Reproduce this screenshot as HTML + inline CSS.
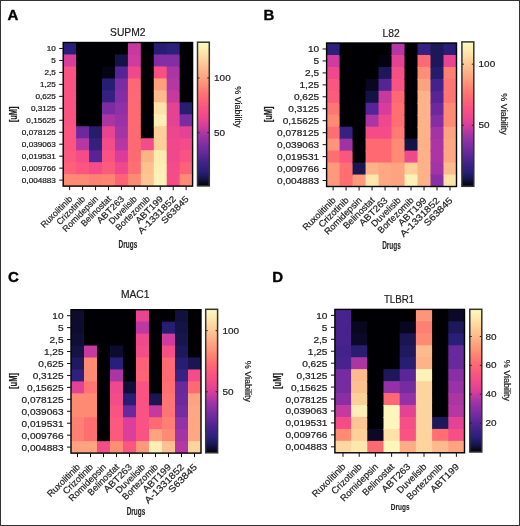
<!DOCTYPE html>
<html><head><meta charset="utf-8"><style>
html,body{margin:0;padding:0;background:#fff;}
body{width:520px;height:526px;overflow:hidden;}
svg{display:block;font-family:"Liberation Sans",sans-serif;will-change:transform;}
text{stroke:#1e1e1e;stroke-width:0.2px;}
</style></head><body>
<svg width="520" height="526" viewBox="0 0 520 526">
<rect x="0" y="0" width="520" height="526" fill="#fff"/>
<rect x="63.20" y="42.50" width="129.40" height="143.60" fill="#000004"/>
<rect x="63.20" y="42.50" width="13.94" height="12.97" fill="#2a1f78"/>
<rect x="63.20" y="54.47" width="13.94" height="12.97" fill="#d83c9c"/>
<rect x="63.20" y="66.43" width="13.94" height="12.97" fill="#fa5282"/>
<rect x="63.20" y="78.40" width="13.94" height="12.97" fill="#fa5282"/>
<rect x="63.20" y="90.37" width="13.94" height="12.97" fill="#fa5282"/>
<rect x="63.20" y="102.33" width="13.94" height="12.97" fill="#fa5282"/>
<rect x="63.20" y="114.30" width="13.94" height="12.97" fill="#fa5282"/>
<rect x="63.20" y="126.27" width="13.94" height="12.97" fill="#fb5580"/>
<rect x="63.20" y="138.23" width="13.94" height="12.97" fill="#fb5580"/>
<rect x="63.20" y="150.20" width="13.94" height="12.97" fill="#fb597d"/>
<rect x="63.20" y="162.17" width="13.94" height="12.97" fill="#fd6079"/>
<rect x="63.20" y="174.13" width="13.94" height="11.97" fill="#fe8a74"/>
<rect x="76.14" y="42.50" width="13.94" height="12.97" fill="#000004"/>
<rect x="76.14" y="54.47" width="13.94" height="12.97" fill="#000004"/>
<rect x="76.14" y="66.43" width="13.94" height="12.97" fill="#000004"/>
<rect x="76.14" y="78.40" width="13.94" height="12.97" fill="#000004"/>
<rect x="76.14" y="90.37" width="13.94" height="12.97" fill="#000004"/>
<rect x="76.14" y="102.33" width="13.94" height="12.97" fill="#000004"/>
<rect x="76.14" y="114.30" width="13.94" height="12.97" fill="#000004"/>
<rect x="76.14" y="126.27" width="13.94" height="12.97" fill="#6c299e"/>
<rect x="76.14" y="138.23" width="13.94" height="12.97" fill="#b537a3"/>
<rect x="76.14" y="150.20" width="13.94" height="12.97" fill="#f44c88"/>
<rect x="76.14" y="162.17" width="13.94" height="12.97" fill="#fb5580"/>
<rect x="76.14" y="174.13" width="13.94" height="11.97" fill="#fe8a74"/>
<rect x="89.08" y="42.50" width="13.94" height="12.97" fill="#000004"/>
<rect x="89.08" y="54.47" width="13.94" height="12.97" fill="#000004"/>
<rect x="89.08" y="66.43" width="13.94" height="12.97" fill="#000004"/>
<rect x="89.08" y="78.40" width="13.94" height="12.97" fill="#000004"/>
<rect x="89.08" y="90.37" width="13.94" height="12.97" fill="#000004"/>
<rect x="89.08" y="102.33" width="13.94" height="12.97" fill="#000004"/>
<rect x="89.08" y="114.30" width="13.94" height="12.97" fill="#000004"/>
<rect x="89.08" y="126.27" width="13.94" height="12.97" fill="#251c6c"/>
<rect x="89.08" y="138.23" width="13.94" height="12.97" fill="#33207f"/>
<rect x="89.08" y="150.20" width="13.94" height="12.97" fill="#552596"/>
<rect x="89.08" y="162.17" width="13.94" height="12.97" fill="#f44c88"/>
<rect x="89.08" y="174.13" width="13.94" height="11.97" fill="#fe7f73"/>
<rect x="102.02" y="42.50" width="13.94" height="12.97" fill="#000004"/>
<rect x="102.02" y="54.47" width="13.94" height="12.97" fill="#000004"/>
<rect x="102.02" y="66.43" width="13.94" height="12.97" fill="#050414"/>
<rect x="102.02" y="78.40" width="13.94" height="12.97" fill="#271e72"/>
<rect x="102.02" y="90.37" width="13.94" height="12.97" fill="#362181"/>
<rect x="102.02" y="102.33" width="13.94" height="12.97" fill="#7b2ca3"/>
<rect x="102.02" y="114.30" width="13.94" height="12.97" fill="#ac35a4"/>
<rect x="102.02" y="126.27" width="13.94" height="12.97" fill="#e84491"/>
<rect x="102.02" y="138.23" width="13.94" height="12.97" fill="#f44c88"/>
<rect x="102.02" y="150.20" width="13.94" height="12.97" fill="#fa5282"/>
<rect x="102.02" y="162.17" width="13.94" height="12.97" fill="#fc5c7b"/>
<rect x="102.02" y="174.13" width="13.94" height="11.97" fill="#fe8574"/>
<rect x="114.96" y="42.50" width="13.94" height="12.97" fill="#000004"/>
<rect x="114.96" y="54.47" width="13.94" height="12.97" fill="#151346"/>
<rect x="114.96" y="66.43" width="13.94" height="12.97" fill="#552596"/>
<rect x="114.96" y="78.40" width="13.94" height="12.97" fill="#7b2ca3"/>
<rect x="114.96" y="90.37" width="13.94" height="12.97" fill="#842ea6"/>
<rect x="114.96" y="102.33" width="13.94" height="12.97" fill="#8e30a6"/>
<rect x="114.96" y="114.30" width="13.94" height="12.97" fill="#9932a6"/>
<rect x="114.96" y="126.27" width="13.94" height="12.97" fill="#a334a6"/>
<rect x="114.96" y="138.23" width="13.94" height="12.97" fill="#b537a3"/>
<rect x="114.96" y="150.20" width="13.94" height="12.97" fill="#d83c9c"/>
<rect x="114.96" y="162.17" width="13.94" height="12.97" fill="#f0488c"/>
<rect x="114.96" y="174.13" width="13.94" height="11.97" fill="#fe6377"/>
<rect x="127.90" y="42.50" width="13.94" height="12.97" fill="#c6399f"/>
<rect x="127.90" y="54.47" width="13.94" height="12.97" fill="#cf3b9e"/>
<rect x="127.90" y="66.43" width="13.94" height="12.97" fill="#f0488c"/>
<rect x="127.90" y="78.40" width="13.94" height="12.97" fill="#fe6774"/>
<rect x="127.90" y="90.37" width="13.94" height="12.97" fill="#fe6774"/>
<rect x="127.90" y="102.33" width="13.94" height="12.97" fill="#ff6a72"/>
<rect x="127.90" y="114.30" width="13.94" height="12.97" fill="#ff6a72"/>
<rect x="127.90" y="126.27" width="13.94" height="12.97" fill="#ff6a72"/>
<rect x="127.90" y="138.23" width="13.94" height="12.97" fill="#ff6a72"/>
<rect x="127.90" y="150.20" width="13.94" height="12.97" fill="#ff6a72"/>
<rect x="127.90" y="162.17" width="13.94" height="12.97" fill="#ff6f72"/>
<rect x="127.90" y="174.13" width="13.94" height="11.97" fill="#fe8a74"/>
<rect x="140.84" y="42.50" width="13.94" height="12.97" fill="#000004"/>
<rect x="140.84" y="54.47" width="13.94" height="12.97" fill="#000004"/>
<rect x="140.84" y="66.43" width="13.94" height="12.97" fill="#000004"/>
<rect x="140.84" y="78.40" width="13.94" height="12.97" fill="#000004"/>
<rect x="140.84" y="90.37" width="13.94" height="12.97" fill="#000004"/>
<rect x="140.84" y="102.33" width="13.94" height="12.97" fill="#000004"/>
<rect x="140.84" y="114.30" width="13.94" height="12.97" fill="#000004"/>
<rect x="140.84" y="126.27" width="13.94" height="12.97" fill="#000004"/>
<rect x="140.84" y="138.23" width="13.94" height="12.97" fill="#f44c88"/>
<rect x="140.84" y="150.20" width="13.94" height="12.97" fill="#fdb287"/>
<rect x="140.84" y="162.17" width="13.94" height="12.97" fill="#fdc08f"/>
<rect x="140.84" y="174.13" width="13.94" height="11.97" fill="#fdc592"/>
<rect x="153.78" y="42.50" width="13.94" height="12.97" fill="#271e72"/>
<rect x="153.78" y="54.47" width="13.94" height="12.97" fill="#842ea6"/>
<rect x="153.78" y="66.43" width="13.94" height="12.97" fill="#f85084"/>
<rect x="153.78" y="78.40" width="13.94" height="12.97" fill="#fd9e7d"/>
<rect x="153.78" y="90.37" width="13.94" height="12.97" fill="#fdbb8d"/>
<rect x="153.78" y="102.33" width="13.94" height="12.97" fill="#fde3a8"/>
<rect x="153.78" y="114.30" width="13.94" height="12.97" fill="#fceeb4"/>
<rect x="153.78" y="126.27" width="13.94" height="12.97" fill="#fdcf99"/>
<rect x="153.78" y="138.23" width="13.94" height="12.97" fill="#fdcf99"/>
<rect x="153.78" y="150.20" width="13.94" height="12.97" fill="#fdebb0"/>
<rect x="153.78" y="162.17" width="13.94" height="12.97" fill="#fceeb4"/>
<rect x="153.78" y="174.13" width="13.94" height="11.97" fill="#fcf2b8"/>
<rect x="166.72" y="42.50" width="13.94" height="12.97" fill="#2d1f7a"/>
<rect x="166.72" y="54.47" width="13.94" height="12.97" fill="#842ea6"/>
<rect x="166.72" y="66.43" width="13.94" height="12.97" fill="#ac35a4"/>
<rect x="166.72" y="78.40" width="13.94" height="12.97" fill="#b537a3"/>
<rect x="166.72" y="90.37" width="13.94" height="12.97" fill="#c6399f"/>
<rect x="166.72" y="102.33" width="13.94" height="12.97" fill="#e44294"/>
<rect x="166.72" y="114.30" width="13.94" height="12.97" fill="#e44294"/>
<rect x="166.72" y="126.27" width="13.94" height="12.97" fill="#ec468f"/>
<rect x="166.72" y="138.23" width="13.94" height="12.97" fill="#f0488c"/>
<rect x="166.72" y="150.20" width="13.94" height="12.97" fill="#f0488c"/>
<rect x="166.72" y="162.17" width="13.94" height="12.97" fill="#f24a8a"/>
<rect x="166.72" y="174.13" width="13.94" height="11.97" fill="#f44c88"/>
<rect x="179.66" y="42.50" width="12.94" height="12.97" fill="#000004"/>
<rect x="179.66" y="54.47" width="12.94" height="12.97" fill="#000004"/>
<rect x="179.66" y="66.43" width="12.94" height="12.97" fill="#000004"/>
<rect x="179.66" y="78.40" width="12.94" height="12.97" fill="#000004"/>
<rect x="179.66" y="90.37" width="12.94" height="12.97" fill="#000004"/>
<rect x="179.66" y="102.33" width="12.94" height="12.97" fill="#271e72"/>
<rect x="179.66" y="114.30" width="12.94" height="12.97" fill="#7b2ca3"/>
<rect x="179.66" y="126.27" width="12.94" height="12.97" fill="#e44294"/>
<rect x="179.66" y="138.23" width="12.94" height="12.97" fill="#f44c88"/>
<rect x="179.66" y="150.20" width="12.94" height="12.97" fill="#fa5282"/>
<rect x="179.66" y="162.17" width="12.94" height="12.97" fill="#fd6079"/>
<rect x="179.66" y="174.13" width="12.94" height="11.97" fill="#fe8a74"/>
<rect x="63.20" y="42.50" width="129.40" height="143.60" fill="none" stroke="#000" stroke-width="1.4" style="stroke:#000"/>
<line x1="59.20" y1="48.48" x2="63.20" y2="48.48" stroke="#111" stroke-width="1"/>
<text transform="translate(55.90 51.29) scale(1.260 1)" font-size="6.50" text-anchor="end" fill="#1e1e1e">10</text>
<line x1="59.20" y1="60.45" x2="63.20" y2="60.45" stroke="#111" stroke-width="1"/>
<text transform="translate(55.90 63.26) scale(1.260 1)" font-size="6.50" text-anchor="end" fill="#1e1e1e">5</text>
<line x1="59.20" y1="72.42" x2="63.20" y2="72.42" stroke="#111" stroke-width="1"/>
<text transform="translate(55.90 75.22) scale(1.260 1)" font-size="6.50" text-anchor="end" fill="#1e1e1e">2,5</text>
<line x1="59.20" y1="84.38" x2="63.20" y2="84.38" stroke="#111" stroke-width="1"/>
<text transform="translate(55.90 87.19) scale(1.260 1)" font-size="6.50" text-anchor="end" fill="#1e1e1e">1,25</text>
<line x1="59.20" y1="96.35" x2="63.20" y2="96.35" stroke="#111" stroke-width="1"/>
<text transform="translate(55.90 99.16) scale(1.260 1)" font-size="6.50" text-anchor="end" fill="#1e1e1e">0,625</text>
<line x1="59.20" y1="108.32" x2="63.20" y2="108.32" stroke="#111" stroke-width="1"/>
<text transform="translate(55.90 111.12) scale(1.260 1)" font-size="6.50" text-anchor="end" fill="#1e1e1e">0,3125</text>
<line x1="59.20" y1="120.28" x2="63.20" y2="120.28" stroke="#111" stroke-width="1"/>
<text transform="translate(55.90 123.09) scale(1.260 1)" font-size="6.50" text-anchor="end" fill="#1e1e1e">0,15625</text>
<line x1="59.20" y1="132.25" x2="63.20" y2="132.25" stroke="#111" stroke-width="1"/>
<text transform="translate(55.90 135.06) scale(1.260 1)" font-size="6.50" text-anchor="end" fill="#1e1e1e">0,078125</text>
<line x1="59.20" y1="144.22" x2="63.20" y2="144.22" stroke="#111" stroke-width="1"/>
<text transform="translate(55.90 147.02) scale(1.260 1)" font-size="6.50" text-anchor="end" fill="#1e1e1e">0,039063</text>
<line x1="59.20" y1="156.18" x2="63.20" y2="156.18" stroke="#111" stroke-width="1"/>
<text transform="translate(55.90 158.99) scale(1.260 1)" font-size="6.50" text-anchor="end" fill="#1e1e1e">0,019531</text>
<line x1="59.20" y1="168.15" x2="63.20" y2="168.15" stroke="#111" stroke-width="1"/>
<text transform="translate(55.90 170.96) scale(1.260 1)" font-size="6.50" text-anchor="end" fill="#1e1e1e">0,009766</text>
<line x1="59.20" y1="180.12" x2="63.20" y2="180.12" stroke="#111" stroke-width="1"/>
<text transform="translate(55.90 182.92) scale(1.260 1)" font-size="6.50" text-anchor="end" fill="#1e1e1e">0,004883</text>
<line x1="69.67" y1="186.10" x2="69.67" y2="190.10" stroke="#111" stroke-width="1"/>
<text transform="translate(72.87 199.60) rotate(-45) scale(1.000 1)" font-size="8.80" text-anchor="end" fill="#1e1e1e" textLength="40.60" lengthAdjust="spacingAndGlyphs">Ruxolitinib</text>
<line x1="82.61" y1="186.10" x2="82.61" y2="190.10" stroke="#111" stroke-width="1"/>
<text transform="translate(85.81 199.60) rotate(-45) scale(1.000 1)" font-size="8.80" text-anchor="end" fill="#1e1e1e" textLength="36.68" lengthAdjust="spacingAndGlyphs">Crizotinib</text>
<line x1="95.55" y1="186.10" x2="95.55" y2="190.10" stroke="#111" stroke-width="1"/>
<text transform="translate(98.75 199.60) rotate(-45) scale(1.000 1)" font-size="8.80" text-anchor="end" fill="#1e1e1e" textLength="46.46" lengthAdjust="spacingAndGlyphs">Romidepsin</text>
<line x1="108.49" y1="186.10" x2="108.49" y2="190.10" stroke="#111" stroke-width="1"/>
<text transform="translate(111.69 199.60) rotate(-45) scale(1.000 1)" font-size="8.80" text-anchor="end" fill="#1e1e1e" textLength="38.64" lengthAdjust="spacingAndGlyphs">Belinostat</text>
<line x1="121.43" y1="186.10" x2="121.43" y2="190.10" stroke="#111" stroke-width="1"/>
<text transform="translate(124.63 199.60) rotate(-45) scale(1.000 1)" font-size="8.80" text-anchor="end" fill="#1e1e1e" textLength="34.44" lengthAdjust="spacingAndGlyphs">ABT263</text>
<line x1="134.37" y1="186.10" x2="134.37" y2="190.10" stroke="#111" stroke-width="1"/>
<text transform="translate(137.57 199.60) rotate(-45) scale(1.000 1)" font-size="8.80" text-anchor="end" fill="#1e1e1e" textLength="35.70" lengthAdjust="spacingAndGlyphs">Duvelisib</text>
<line x1="147.31" y1="186.10" x2="147.31" y2="190.10" stroke="#111" stroke-width="1"/>
<text transform="translate(150.51 199.60) rotate(-45) scale(1.000 1)" font-size="8.80" text-anchor="end" fill="#1e1e1e" textLength="44.50" lengthAdjust="spacingAndGlyphs">Bortezomib</text>
<line x1="160.25" y1="186.10" x2="160.25" y2="190.10" stroke="#111" stroke-width="1"/>
<text transform="translate(163.45 199.60) rotate(-45) scale(1.000 1)" font-size="8.80" text-anchor="end" fill="#1e1e1e" textLength="34.44" lengthAdjust="spacingAndGlyphs">ABT199</text>
<line x1="173.19" y1="186.10" x2="173.19" y2="190.10" stroke="#111" stroke-width="1"/>
<text transform="translate(176.39 199.60) rotate(-45) scale(1.000 1)" font-size="8.80" text-anchor="end" fill="#1e1e1e" textLength="49.22" lengthAdjust="spacingAndGlyphs">A-1331852</text>
<line x1="186.13" y1="186.10" x2="186.13" y2="190.10" stroke="#111" stroke-width="1"/>
<text transform="translate(189.33 199.60) rotate(-45) scale(1.000 1)" font-size="8.80" text-anchor="end" fill="#1e1e1e" textLength="34.74" lengthAdjust="spacingAndGlyphs">S63845</text>
<text transform="translate(127.80 35.80) scale(1.000 1)" font-size="10.30" text-anchor="middle" fill="#1e1e1e">SUPM2</text>
<text x="7.60" y="19.60" font-size="15" font-weight="bold" fill="#000" style="stroke:#000;stroke-width:0.35px">A</text>
<text transform="translate(16.60 114.30) rotate(-90) scale(0.750 1)" font-size="10.00" font-weight="bold" text-anchor="middle" fill="#1e1e1e">[uM]</text>
<text transform="translate(127.90 247.50) scale(0.600 1)" font-size="10.80" font-weight="bold" text-anchor="middle" fill="#1e1e1e" style="stroke-width:0.1px">Drugs</text>
<defs><linearGradient id="gA" x1="0" y1="0" x2="0" y2="1"><stop offset="0.000" stop-color="#fcfac0"/><stop offset="0.021" stop-color="#fcf4ba"/><stop offset="0.042" stop-color="#fdeeb3"/><stop offset="0.062" stop-color="#fde8ad"/><stop offset="0.083" stop-color="#fde1a7"/><stop offset="0.104" stop-color="#fdd9a1"/><stop offset="0.125" stop-color="#fdd19b"/><stop offset="0.146" stop-color="#fdc995"/><stop offset="0.167" stop-color="#fdc190"/><stop offset="0.188" stop-color="#fdb98c"/><stop offset="0.208" stop-color="#fdb187"/><stop offset="0.229" stop-color="#fda983"/><stop offset="0.250" stop-color="#fda17f"/><stop offset="0.271" stop-color="#fe997b"/><stop offset="0.292" stop-color="#fe9077"/><stop offset="0.312" stop-color="#fe8774"/><stop offset="0.333" stop-color="#fe7e73"/><stop offset="0.354" stop-color="#ff7573"/><stop offset="0.375" stop-color="#ff6c72"/><stop offset="0.396" stop-color="#fe6575"/><stop offset="0.417" stop-color="#fd5f79"/><stop offset="0.438" stop-color="#fb597e"/><stop offset="0.458" stop-color="#fa5282"/><stop offset="0.479" stop-color="#f74f85"/><stop offset="0.500" stop-color="#f34b89"/><stop offset="0.521" stop-color="#ee478d"/><stop offset="0.542" stop-color="#e74392"/><stop offset="0.562" stop-color="#df4097"/><stop offset="0.583" stop-color="#d73c9c"/><stop offset="0.604" stop-color="#c5399f"/><stop offset="0.625" stop-color="#b437a3"/><stop offset="0.646" stop-color="#a334a6"/><stop offset="0.667" stop-color="#9832a6"/><stop offset="0.688" stop-color="#8d30a6"/><stop offset="0.708" stop-color="#832ea6"/><stop offset="0.729" stop-color="#782ca2"/><stop offset="0.750" stop-color="#6e2a9f"/><stop offset="0.771" stop-color="#64289b"/><stop offset="0.792" stop-color="#592697"/><stop offset="0.812" stop-color="#4e2492"/><stop offset="0.833" stop-color="#44238b"/><stop offset="0.854" stop-color="#3b2185"/><stop offset="0.875" stop-color="#33207f"/><stop offset="0.896" stop-color="#2b1f79"/><stop offset="0.917" stop-color="#231b68"/><stop offset="0.938" stop-color="#1c1756"/><stop offset="0.958" stop-color="#131140"/><stop offset="0.979" stop-color="#090823"/><stop offset="1.000" stop-color="#000004"/></linearGradient></defs>
<rect x="197.50" y="42.20" width="11.80" height="143.70" fill="url(#gA)" stroke="#333" stroke-width="1.5" style="stroke:#353330"/>
<line x1="197.50" y1="78.00" x2="199.50" y2="78.00" stroke="#222" stroke-width="1"/>
<line x1="207.30" y1="78.00" x2="209.30" y2="78.00" stroke="#222" stroke-width="1"/>
<text transform="translate(214.10 81.12) scale(1.130 1)" font-size="8.80" fill="#1e1e1e">100</text>
<line x1="197.50" y1="132.70" x2="199.50" y2="132.70" stroke="#222" stroke-width="1"/>
<line x1="207.30" y1="132.70" x2="209.30" y2="132.70" stroke="#222" stroke-width="1"/>
<text transform="translate(214.10 135.82) scale(1.130 1)" font-size="8.80" fill="#1e1e1e">50</text>
<text transform="translate(235.30 106.90) rotate(90) scale(1.000 1)" font-size="9.00" text-anchor="middle" fill="#1e1e1e">% Viability</text>
<rect x="326.60" y="43.00" width="129.90" height="143.50" fill="#000004"/>
<rect x="326.60" y="43.00" width="13.99" height="12.96" fill="#2d1f7a"/>
<rect x="326.60" y="54.96" width="13.99" height="12.96" fill="#cf3b9e"/>
<rect x="326.60" y="66.92" width="13.99" height="12.96" fill="#f0488c"/>
<rect x="326.60" y="78.88" width="13.99" height="12.96" fill="#fb5580"/>
<rect x="326.60" y="90.83" width="13.99" height="12.96" fill="#fc5c7b"/>
<rect x="326.60" y="102.79" width="13.99" height="12.96" fill="#ff7573"/>
<rect x="326.60" y="114.75" width="13.99" height="12.96" fill="#fe8a74"/>
<rect x="326.60" y="126.71" width="13.99" height="12.96" fill="#ff6f72"/>
<rect x="326.60" y="138.67" width="13.99" height="12.96" fill="#fe9479"/>
<rect x="326.60" y="150.62" width="13.99" height="12.96" fill="#ff6f72"/>
<rect x="326.60" y="162.58" width="13.99" height="12.96" fill="#fe997b"/>
<rect x="326.60" y="174.54" width="13.99" height="11.96" fill="#fe997b"/>
<rect x="339.59" y="43.00" width="13.99" height="12.96" fill="#000004"/>
<rect x="339.59" y="54.96" width="13.99" height="12.96" fill="#000004"/>
<rect x="339.59" y="66.92" width="13.99" height="12.96" fill="#000004"/>
<rect x="339.59" y="78.88" width="13.99" height="12.96" fill="#000004"/>
<rect x="339.59" y="90.83" width="13.99" height="12.96" fill="#000004"/>
<rect x="339.59" y="102.79" width="13.99" height="12.96" fill="#000004"/>
<rect x="339.59" y="114.75" width="13.99" height="12.96" fill="#000004"/>
<rect x="339.59" y="126.71" width="13.99" height="12.96" fill="#362181"/>
<rect x="339.59" y="138.67" width="13.99" height="12.96" fill="#9e33a6"/>
<rect x="339.59" y="150.62" width="13.99" height="12.96" fill="#fb5580"/>
<rect x="339.59" y="162.58" width="13.99" height="12.96" fill="#ff6f72"/>
<rect x="339.59" y="174.54" width="13.99" height="11.96" fill="#ff6f72"/>
<rect x="352.58" y="43.00" width="13.99" height="12.96" fill="#000004"/>
<rect x="352.58" y="54.96" width="13.99" height="12.96" fill="#000004"/>
<rect x="352.58" y="66.92" width="13.99" height="12.96" fill="#000004"/>
<rect x="352.58" y="78.88" width="13.99" height="12.96" fill="#000004"/>
<rect x="352.58" y="90.83" width="13.99" height="12.96" fill="#000004"/>
<rect x="352.58" y="102.79" width="13.99" height="12.96" fill="#000004"/>
<rect x="352.58" y="114.75" width="13.99" height="12.96" fill="#000004"/>
<rect x="352.58" y="126.71" width="13.99" height="12.96" fill="#000004"/>
<rect x="352.58" y="138.67" width="13.99" height="12.96" fill="#000004"/>
<rect x="352.58" y="150.62" width="13.99" height="12.96" fill="#000004"/>
<rect x="352.58" y="162.58" width="13.99" height="12.96" fill="#1a1652"/>
<rect x="352.58" y="174.54" width="13.99" height="11.96" fill="#fe997b"/>
<rect x="365.57" y="43.00" width="13.99" height="12.96" fill="#000004"/>
<rect x="365.57" y="54.96" width="13.99" height="12.96" fill="#000004"/>
<rect x="365.57" y="66.92" width="13.99" height="12.96" fill="#000004"/>
<rect x="365.57" y="78.88" width="13.99" height="12.96" fill="#08071f"/>
<rect x="365.57" y="90.83" width="13.99" height="12.96" fill="#151346"/>
<rect x="365.57" y="102.79" width="13.99" height="12.96" fill="#552596"/>
<rect x="365.57" y="114.75" width="13.99" height="12.96" fill="#ac35a4"/>
<rect x="365.57" y="126.71" width="13.99" height="12.96" fill="#f44c88"/>
<rect x="365.57" y="138.67" width="13.99" height="12.96" fill="#ff6a72"/>
<rect x="365.57" y="150.62" width="13.99" height="12.96" fill="#ff6a72"/>
<rect x="365.57" y="162.58" width="13.99" height="12.96" fill="#fdb287"/>
<rect x="365.57" y="174.54" width="13.99" height="11.96" fill="#fde7ac"/>
<rect x="378.56" y="43.00" width="13.99" height="12.96" fill="#000004"/>
<rect x="378.56" y="54.96" width="13.99" height="12.96" fill="#03030f"/>
<rect x="378.56" y="66.92" width="13.99" height="12.96" fill="#1d1859"/>
<rect x="378.56" y="78.88" width="13.99" height="12.96" fill="#552596"/>
<rect x="378.56" y="90.83" width="13.99" height="12.96" fill="#c6399f"/>
<rect x="378.56" y="102.79" width="13.99" height="12.96" fill="#d83c9c"/>
<rect x="378.56" y="114.75" width="13.99" height="12.96" fill="#f0488c"/>
<rect x="378.56" y="126.71" width="13.99" height="12.96" fill="#f44c88"/>
<rect x="378.56" y="138.67" width="13.99" height="12.96" fill="#ff6a72"/>
<rect x="378.56" y="150.62" width="13.99" height="12.96" fill="#ff6a72"/>
<rect x="378.56" y="162.58" width="13.99" height="12.96" fill="#fda882"/>
<rect x="378.56" y="174.54" width="13.99" height="11.96" fill="#fda882"/>
<rect x="391.55" y="43.00" width="13.99" height="12.96" fill="#b537a3"/>
<rect x="391.55" y="54.96" width="13.99" height="12.96" fill="#e44294"/>
<rect x="391.55" y="66.92" width="13.99" height="12.96" fill="#f64e86"/>
<rect x="391.55" y="78.88" width="13.99" height="12.96" fill="#fa5282"/>
<rect x="391.55" y="90.83" width="13.99" height="12.96" fill="#fe6774"/>
<rect x="391.55" y="102.79" width="13.99" height="12.96" fill="#ff6f72"/>
<rect x="391.55" y="114.75" width="13.99" height="12.96" fill="#ff6f72"/>
<rect x="391.55" y="126.71" width="13.99" height="12.96" fill="#fe7a73"/>
<rect x="391.55" y="138.67" width="13.99" height="12.96" fill="#fe8a74"/>
<rect x="391.55" y="150.62" width="13.99" height="12.96" fill="#fe8a74"/>
<rect x="391.55" y="162.58" width="13.99" height="12.96" fill="#fda380"/>
<rect x="391.55" y="174.54" width="13.99" height="11.96" fill="#fda380"/>
<rect x="404.54" y="43.00" width="13.99" height="12.96" fill="#000004"/>
<rect x="404.54" y="54.96" width="13.99" height="12.96" fill="#000004"/>
<rect x="404.54" y="66.92" width="13.99" height="12.96" fill="#000004"/>
<rect x="404.54" y="78.88" width="13.99" height="12.96" fill="#000004"/>
<rect x="404.54" y="90.83" width="13.99" height="12.96" fill="#000004"/>
<rect x="404.54" y="102.79" width="13.99" height="12.96" fill="#000004"/>
<rect x="404.54" y="114.75" width="13.99" height="12.96" fill="#000004"/>
<rect x="404.54" y="126.71" width="13.99" height="12.96" fill="#000004"/>
<rect x="404.54" y="138.67" width="13.99" height="12.96" fill="#151346"/>
<rect x="404.54" y="150.62" width="13.99" height="12.96" fill="#f0488c"/>
<rect x="404.54" y="162.58" width="13.99" height="12.96" fill="#fdcf99"/>
<rect x="404.54" y="174.54" width="13.99" height="11.96" fill="#fcf2b8"/>
<rect x="417.53" y="43.00" width="13.99" height="12.96" fill="#362181"/>
<rect x="417.53" y="54.96" width="13.99" height="12.96" fill="#ff6a72"/>
<rect x="417.53" y="66.92" width="13.99" height="12.96" fill="#fe8f76"/>
<rect x="417.53" y="78.88" width="13.99" height="12.96" fill="#fda380"/>
<rect x="417.53" y="90.83" width="13.99" height="12.96" fill="#fdb287"/>
<rect x="417.53" y="102.79" width="13.99" height="12.96" fill="#fdb287"/>
<rect x="417.53" y="114.75" width="13.99" height="12.96" fill="#fdb287"/>
<rect x="417.53" y="126.71" width="13.99" height="12.96" fill="#fdb287"/>
<rect x="417.53" y="138.67" width="13.99" height="12.96" fill="#fdb287"/>
<rect x="417.53" y="150.62" width="13.99" height="12.96" fill="#fdb287"/>
<rect x="417.53" y="162.58" width="13.99" height="12.96" fill="#fdb287"/>
<rect x="417.53" y="174.54" width="13.99" height="11.96" fill="#fdb287"/>
<rect x="430.52" y="43.00" width="13.99" height="12.96" fill="#1d1859"/>
<rect x="430.52" y="54.96" width="13.99" height="12.96" fill="#1d1859"/>
<rect x="430.52" y="66.92" width="13.99" height="12.96" fill="#251c6c"/>
<rect x="430.52" y="78.88" width="13.99" height="12.96" fill="#43238b"/>
<rect x="430.52" y="90.83" width="13.99" height="12.96" fill="#552596"/>
<rect x="430.52" y="102.79" width="13.99" height="12.96" fill="#6c299e"/>
<rect x="430.52" y="114.75" width="13.99" height="12.96" fill="#842ea6"/>
<rect x="430.52" y="126.71" width="13.99" height="12.96" fill="#a334a6"/>
<rect x="430.52" y="138.67" width="13.99" height="12.96" fill="#ac35a4"/>
<rect x="430.52" y="150.62" width="13.99" height="12.96" fill="#ac35a4"/>
<rect x="430.52" y="162.58" width="13.99" height="12.96" fill="#a334a6"/>
<rect x="430.52" y="174.54" width="13.99" height="11.96" fill="#892fa6"/>
<rect x="443.51" y="43.00" width="12.99" height="12.96" fill="#2a1f78"/>
<rect x="443.51" y="54.96" width="12.99" height="12.96" fill="#e84491"/>
<rect x="443.51" y="66.92" width="12.99" height="12.96" fill="#fe7f73"/>
<rect x="443.51" y="78.88" width="12.99" height="12.96" fill="#ff7573"/>
<rect x="443.51" y="90.83" width="12.99" height="12.96" fill="#ff7573"/>
<rect x="443.51" y="102.79" width="12.99" height="12.96" fill="#fe8a74"/>
<rect x="443.51" y="114.75" width="12.99" height="12.96" fill="#fe8a74"/>
<rect x="443.51" y="126.71" width="12.99" height="12.96" fill="#fda380"/>
<rect x="443.51" y="138.67" width="12.99" height="12.96" fill="#fda882"/>
<rect x="443.51" y="150.62" width="12.99" height="12.96" fill="#fda882"/>
<rect x="443.51" y="162.58" width="12.99" height="12.96" fill="#fdbb8d"/>
<rect x="443.51" y="174.54" width="12.99" height="11.96" fill="#fde3a8"/>
<rect x="326.60" y="43.00" width="129.90" height="143.50" fill="none" stroke="#000" stroke-width="1.4" style="stroke:#000"/>
<line x1="322.60" y1="48.98" x2="326.60" y2="48.98" stroke="#111" stroke-width="1"/>
<text transform="translate(319.10 52.46) scale(1.200 1)" font-size="8.40" text-anchor="end" fill="#1e1e1e">10</text>
<line x1="322.60" y1="60.94" x2="326.60" y2="60.94" stroke="#111" stroke-width="1"/>
<text transform="translate(319.10 64.42) scale(1.200 1)" font-size="8.40" text-anchor="end" fill="#1e1e1e">5</text>
<line x1="322.60" y1="72.90" x2="326.60" y2="72.90" stroke="#111" stroke-width="1"/>
<text transform="translate(319.10 76.38) scale(1.200 1)" font-size="8.40" text-anchor="end" fill="#1e1e1e">2,5</text>
<line x1="322.60" y1="84.85" x2="326.60" y2="84.85" stroke="#111" stroke-width="1"/>
<text transform="translate(319.10 88.34) scale(1.200 1)" font-size="8.40" text-anchor="end" fill="#1e1e1e">1,25</text>
<line x1="322.60" y1="96.81" x2="326.60" y2="96.81" stroke="#111" stroke-width="1"/>
<text transform="translate(319.10 100.29) scale(1.200 1)" font-size="8.40" text-anchor="end" fill="#1e1e1e">0,625</text>
<line x1="322.60" y1="108.77" x2="326.60" y2="108.77" stroke="#111" stroke-width="1"/>
<text transform="translate(319.10 112.25) scale(1.200 1)" font-size="8.40" text-anchor="end" fill="#1e1e1e">0,3125</text>
<line x1="322.60" y1="120.73" x2="326.60" y2="120.73" stroke="#111" stroke-width="1"/>
<text transform="translate(319.10 124.21) scale(1.200 1)" font-size="8.40" text-anchor="end" fill="#1e1e1e">0,15625</text>
<line x1="322.60" y1="132.69" x2="326.60" y2="132.69" stroke="#111" stroke-width="1"/>
<text transform="translate(319.10 136.17) scale(1.200 1)" font-size="8.40" text-anchor="end" fill="#1e1e1e">0,078125</text>
<line x1="322.60" y1="144.65" x2="326.60" y2="144.65" stroke="#111" stroke-width="1"/>
<text transform="translate(319.10 148.13) scale(1.200 1)" font-size="8.40" text-anchor="end" fill="#1e1e1e">0,039063</text>
<line x1="322.60" y1="156.60" x2="326.60" y2="156.60" stroke="#111" stroke-width="1"/>
<text transform="translate(319.10 160.09) scale(1.200 1)" font-size="8.40" text-anchor="end" fill="#1e1e1e">0,019531</text>
<line x1="322.60" y1="168.56" x2="326.60" y2="168.56" stroke="#111" stroke-width="1"/>
<text transform="translate(319.10 172.04) scale(1.200 1)" font-size="8.40" text-anchor="end" fill="#1e1e1e">0,009766</text>
<line x1="322.60" y1="180.52" x2="326.60" y2="180.52" stroke="#111" stroke-width="1"/>
<text transform="translate(319.10 184.00) scale(1.200 1)" font-size="8.40" text-anchor="end" fill="#1e1e1e">0,004883</text>
<line x1="333.10" y1="186.50" x2="333.10" y2="190.50" stroke="#111" stroke-width="1"/>
<text transform="translate(336.30 201.00) rotate(-45) scale(1.000 1)" font-size="9.20" text-anchor="end" fill="#1e1e1e" textLength="42.44" lengthAdjust="spacingAndGlyphs">Ruxolitinib</text>
<line x1="346.09" y1="186.50" x2="346.09" y2="190.50" stroke="#111" stroke-width="1"/>
<text transform="translate(349.29 201.00) rotate(-45) scale(1.000 1)" font-size="9.20" text-anchor="end" fill="#1e1e1e" textLength="38.34" lengthAdjust="spacingAndGlyphs">Crizotinib</text>
<line x1="359.08" y1="186.50" x2="359.08" y2="190.50" stroke="#111" stroke-width="1"/>
<text transform="translate(362.28 201.00) rotate(-45) scale(1.000 1)" font-size="9.20" text-anchor="end" fill="#1e1e1e" textLength="48.58" lengthAdjust="spacingAndGlyphs">Romidepsin</text>
<line x1="372.06" y1="186.50" x2="372.06" y2="190.50" stroke="#111" stroke-width="1"/>
<text transform="translate(375.26 201.00) rotate(-45) scale(1.000 1)" font-size="9.20" text-anchor="end" fill="#1e1e1e" textLength="40.40" lengthAdjust="spacingAndGlyphs">Belinostat</text>
<line x1="385.06" y1="186.50" x2="385.06" y2="190.50" stroke="#111" stroke-width="1"/>
<text transform="translate(388.25 201.00) rotate(-45) scale(1.000 1)" font-size="9.20" text-anchor="end" fill="#1e1e1e" textLength="36.00" lengthAdjust="spacingAndGlyphs">ABT263</text>
<line x1="398.05" y1="186.50" x2="398.05" y2="190.50" stroke="#111" stroke-width="1"/>
<text transform="translate(401.25 201.00) rotate(-45) scale(1.000 1)" font-size="9.20" text-anchor="end" fill="#1e1e1e" textLength="37.32" lengthAdjust="spacingAndGlyphs">Duvelisib</text>
<line x1="411.04" y1="186.50" x2="411.04" y2="190.50" stroke="#111" stroke-width="1"/>
<text transform="translate(414.24 201.00) rotate(-45) scale(1.000 1)" font-size="9.20" text-anchor="end" fill="#1e1e1e" textLength="46.53" lengthAdjust="spacingAndGlyphs">Bortezomib</text>
<line x1="424.02" y1="186.50" x2="424.02" y2="190.50" stroke="#111" stroke-width="1"/>
<text transform="translate(427.22 201.00) rotate(-45) scale(1.000 1)" font-size="9.20" text-anchor="end" fill="#1e1e1e" textLength="36.00" lengthAdjust="spacingAndGlyphs">ABT199</text>
<line x1="437.01" y1="186.50" x2="437.01" y2="190.50" stroke="#111" stroke-width="1"/>
<text transform="translate(440.21 201.00) rotate(-45) scale(1.000 1)" font-size="9.20" text-anchor="end" fill="#1e1e1e" textLength="51.46" lengthAdjust="spacingAndGlyphs">A-1331852</text>
<line x1="450.00" y1="186.50" x2="450.00" y2="190.50" stroke="#111" stroke-width="1"/>
<text transform="translate(453.20 201.00) rotate(-45) scale(1.000 1)" font-size="9.20" text-anchor="end" fill="#1e1e1e" textLength="36.32" lengthAdjust="spacingAndGlyphs">S63845</text>
<text transform="translate(391.10 36.60) scale(1.000 1)" font-size="10.30" text-anchor="middle" fill="#1e1e1e">L82</text>
<text x="263.40" y="20.00" font-size="15" font-weight="bold" fill="#000" style="stroke:#000;stroke-width:0.35px">B</text>
<text transform="translate(272.00 114.30) rotate(-90) scale(0.750 1)" font-size="10.00" font-weight="bold" text-anchor="middle" fill="#1e1e1e">[uM]</text>
<text transform="translate(391.50 248.70) scale(0.600 1)" font-size="10.80" font-weight="bold" text-anchor="middle" fill="#1e1e1e" style="stroke-width:0.1px">Drugs</text>
<defs><linearGradient id="gB" x1="0" y1="0" x2="0" y2="1"><stop offset="0.000" stop-color="#fcfac0"/><stop offset="0.021" stop-color="#fcf4ba"/><stop offset="0.042" stop-color="#fdeeb3"/><stop offset="0.062" stop-color="#fde8ad"/><stop offset="0.083" stop-color="#fde1a7"/><stop offset="0.104" stop-color="#fdd9a1"/><stop offset="0.125" stop-color="#fdd19b"/><stop offset="0.146" stop-color="#fdc995"/><stop offset="0.167" stop-color="#fdc190"/><stop offset="0.188" stop-color="#fdb98c"/><stop offset="0.208" stop-color="#fdb187"/><stop offset="0.229" stop-color="#fda983"/><stop offset="0.250" stop-color="#fda17f"/><stop offset="0.271" stop-color="#fe997b"/><stop offset="0.292" stop-color="#fe9077"/><stop offset="0.312" stop-color="#fe8774"/><stop offset="0.333" stop-color="#fe7e73"/><stop offset="0.354" stop-color="#ff7573"/><stop offset="0.375" stop-color="#ff6c72"/><stop offset="0.396" stop-color="#fe6575"/><stop offset="0.417" stop-color="#fd5f79"/><stop offset="0.438" stop-color="#fb597e"/><stop offset="0.458" stop-color="#fa5282"/><stop offset="0.479" stop-color="#f74f85"/><stop offset="0.500" stop-color="#f34b89"/><stop offset="0.521" stop-color="#ee478d"/><stop offset="0.542" stop-color="#e74392"/><stop offset="0.562" stop-color="#df4097"/><stop offset="0.583" stop-color="#d73c9c"/><stop offset="0.604" stop-color="#c5399f"/><stop offset="0.625" stop-color="#b437a3"/><stop offset="0.646" stop-color="#a334a6"/><stop offset="0.667" stop-color="#9832a6"/><stop offset="0.688" stop-color="#8d30a6"/><stop offset="0.708" stop-color="#832ea6"/><stop offset="0.729" stop-color="#782ca2"/><stop offset="0.750" stop-color="#6e2a9f"/><stop offset="0.771" stop-color="#64289b"/><stop offset="0.792" stop-color="#592697"/><stop offset="0.812" stop-color="#4e2492"/><stop offset="0.833" stop-color="#44238b"/><stop offset="0.854" stop-color="#3b2185"/><stop offset="0.875" stop-color="#33207f"/><stop offset="0.896" stop-color="#2b1f79"/><stop offset="0.917" stop-color="#231b68"/><stop offset="0.938" stop-color="#1c1756"/><stop offset="0.958" stop-color="#131140"/><stop offset="0.979" stop-color="#090823"/><stop offset="1.000" stop-color="#000004"/></linearGradient></defs>
<rect x="461.90" y="41.90" width="11.90" height="144.40" fill="url(#gB)" stroke="#333" stroke-width="1.5" style="stroke:#353330"/>
<line x1="461.90" y1="64.20" x2="463.90" y2="64.20" stroke="#222" stroke-width="1"/>
<line x1="471.80" y1="64.20" x2="473.80" y2="64.20" stroke="#222" stroke-width="1"/>
<text transform="translate(478.60 67.32) scale(1.130 1)" font-size="8.80" fill="#1e1e1e">100</text>
<line x1="461.90" y1="125.30" x2="463.90" y2="125.30" stroke="#222" stroke-width="1"/>
<line x1="471.80" y1="125.30" x2="473.80" y2="125.30" stroke="#222" stroke-width="1"/>
<text transform="translate(478.60 128.42) scale(1.130 1)" font-size="8.80" fill="#1e1e1e">50</text>
<text transform="translate(501.20 114.00) rotate(90) scale(1.000 1)" font-size="9.00" text-anchor="middle" fill="#1e1e1e">% Viability</text>
<rect x="71.00" y="309.70" width="130.00" height="143.40" fill="#000004"/>
<rect x="71.00" y="309.70" width="14.00" height="12.95" fill="#0d0c2f"/>
<rect x="71.00" y="321.65" width="14.00" height="12.95" fill="#0d0c2f"/>
<rect x="71.00" y="333.60" width="14.00" height="12.95" fill="#100e36"/>
<rect x="71.00" y="345.55" width="14.00" height="12.95" fill="#151346"/>
<rect x="71.00" y="357.50" width="14.00" height="12.95" fill="#20195f"/>
<rect x="71.00" y="369.45" width="14.00" height="12.95" fill="#30207d"/>
<rect x="71.00" y="381.40" width="14.00" height="12.95" fill="#e44294"/>
<rect x="71.00" y="393.35" width="14.00" height="12.95" fill="#fe8a74"/>
<rect x="71.00" y="405.30" width="14.00" height="12.95" fill="#fe8a74"/>
<rect x="71.00" y="417.25" width="14.00" height="12.95" fill="#fe7f73"/>
<rect x="71.00" y="429.20" width="14.00" height="12.95" fill="#fe7f73"/>
<rect x="71.00" y="441.15" width="14.00" height="11.95" fill="#fda380"/>
<rect x="84.00" y="309.70" width="14.00" height="12.95" fill="#000004"/>
<rect x="84.00" y="321.65" width="14.00" height="12.95" fill="#000004"/>
<rect x="84.00" y="333.60" width="14.00" height="12.95" fill="#000004"/>
<rect x="84.00" y="345.55" width="14.00" height="12.95" fill="#c6399f"/>
<rect x="84.00" y="357.50" width="14.00" height="12.95" fill="#fe8a74"/>
<rect x="84.00" y="369.45" width="14.00" height="12.95" fill="#fe8a74"/>
<rect x="84.00" y="381.40" width="14.00" height="12.95" fill="#ff7573"/>
<rect x="84.00" y="393.35" width="14.00" height="12.95" fill="#fe8a74"/>
<rect x="84.00" y="405.30" width="14.00" height="12.95" fill="#fe8a74"/>
<rect x="84.00" y="417.25" width="14.00" height="12.95" fill="#ff6f72"/>
<rect x="84.00" y="429.20" width="14.00" height="12.95" fill="#ff6f72"/>
<rect x="84.00" y="441.15" width="14.00" height="11.95" fill="#fda380"/>
<rect x="97.00" y="309.70" width="14.00" height="12.95" fill="#000004"/>
<rect x="97.00" y="321.65" width="14.00" height="12.95" fill="#000004"/>
<rect x="97.00" y="333.60" width="14.00" height="12.95" fill="#000004"/>
<rect x="97.00" y="345.55" width="14.00" height="12.95" fill="#000004"/>
<rect x="97.00" y="357.50" width="14.00" height="12.95" fill="#000004"/>
<rect x="97.00" y="369.45" width="14.00" height="12.95" fill="#000004"/>
<rect x="97.00" y="381.40" width="14.00" height="12.95" fill="#000004"/>
<rect x="97.00" y="393.35" width="14.00" height="12.95" fill="#000004"/>
<rect x="97.00" y="405.30" width="14.00" height="12.95" fill="#000004"/>
<rect x="97.00" y="417.25" width="14.00" height="12.95" fill="#000004"/>
<rect x="97.00" y="429.20" width="14.00" height="12.95" fill="#000004"/>
<rect x="97.00" y="441.15" width="14.00" height="11.95" fill="#f44c88"/>
<rect x="110.00" y="309.70" width="14.00" height="12.95" fill="#000004"/>
<rect x="110.00" y="321.65" width="14.00" height="12.95" fill="#000004"/>
<rect x="110.00" y="333.60" width="14.00" height="12.95" fill="#000004"/>
<rect x="110.00" y="345.55" width="14.00" height="12.95" fill="#0d0c2f"/>
<rect x="110.00" y="357.50" width="14.00" height="12.95" fill="#2a1f78"/>
<rect x="110.00" y="369.45" width="14.00" height="12.95" fill="#ac35a4"/>
<rect x="110.00" y="381.40" width="14.00" height="12.95" fill="#f0488c"/>
<rect x="110.00" y="393.35" width="14.00" height="12.95" fill="#f44c88"/>
<rect x="110.00" y="405.30" width="14.00" height="12.95" fill="#fa5282"/>
<rect x="110.00" y="417.25" width="14.00" height="12.95" fill="#fb597d"/>
<rect x="110.00" y="429.20" width="14.00" height="12.95" fill="#fb597d"/>
<rect x="110.00" y="441.15" width="14.00" height="11.95" fill="#fe8f76"/>
<rect x="123.00" y="309.70" width="14.00" height="12.95" fill="#000004"/>
<rect x="123.00" y="321.65" width="14.00" height="12.95" fill="#000004"/>
<rect x="123.00" y="333.60" width="14.00" height="12.95" fill="#000004"/>
<rect x="123.00" y="345.55" width="14.00" height="12.95" fill="#000004"/>
<rect x="123.00" y="357.50" width="14.00" height="12.95" fill="#000004"/>
<rect x="123.00" y="369.45" width="14.00" height="12.95" fill="#020109"/>
<rect x="123.00" y="381.40" width="14.00" height="12.95" fill="#100e36"/>
<rect x="123.00" y="393.35" width="14.00" height="12.95" fill="#271e72"/>
<rect x="123.00" y="405.30" width="14.00" height="12.95" fill="#68299c"/>
<rect x="123.00" y="417.25" width="14.00" height="12.95" fill="#dc3e99"/>
<rect x="123.00" y="429.20" width="14.00" height="12.95" fill="#dc3e99"/>
<rect x="123.00" y="441.15" width="14.00" height="11.95" fill="#fb5580"/>
<rect x="136.00" y="309.70" width="14.00" height="12.95" fill="#e84491"/>
<rect x="136.00" y="321.65" width="14.00" height="12.95" fill="#bd38a1"/>
<rect x="136.00" y="333.60" width="14.00" height="12.95" fill="#f0488c"/>
<rect x="136.00" y="345.55" width="14.00" height="12.95" fill="#f44c88"/>
<rect x="136.00" y="357.50" width="14.00" height="12.95" fill="#fd6079"/>
<rect x="136.00" y="369.45" width="14.00" height="12.95" fill="#fe6377"/>
<rect x="136.00" y="381.40" width="14.00" height="12.95" fill="#fa5282"/>
<rect x="136.00" y="393.35" width="14.00" height="12.95" fill="#fa5282"/>
<rect x="136.00" y="405.30" width="14.00" height="12.95" fill="#fa5282"/>
<rect x="136.00" y="417.25" width="14.00" height="12.95" fill="#fa5282"/>
<rect x="136.00" y="429.20" width="14.00" height="12.95" fill="#fa5282"/>
<rect x="136.00" y="441.15" width="14.00" height="11.95" fill="#fe997b"/>
<rect x="149.00" y="309.70" width="14.00" height="12.95" fill="#000004"/>
<rect x="149.00" y="321.65" width="14.00" height="12.95" fill="#000004"/>
<rect x="149.00" y="333.60" width="14.00" height="12.95" fill="#000004"/>
<rect x="149.00" y="345.55" width="14.00" height="12.95" fill="#000004"/>
<rect x="149.00" y="357.50" width="14.00" height="12.95" fill="#000004"/>
<rect x="149.00" y="369.45" width="14.00" height="12.95" fill="#000004"/>
<rect x="149.00" y="381.40" width="14.00" height="12.95" fill="#000004"/>
<rect x="149.00" y="393.35" width="14.00" height="12.95" fill="#1a1652"/>
<rect x="149.00" y="405.30" width="14.00" height="12.95" fill="#c6399f"/>
<rect x="149.00" y="417.25" width="14.00" height="12.95" fill="#ff6a72"/>
<rect x="149.00" y="429.20" width="14.00" height="12.95" fill="#fda380"/>
<rect x="149.00" y="441.15" width="14.00" height="11.95" fill="#fceeb4"/>
<rect x="162.00" y="309.70" width="14.00" height="12.95" fill="#000004"/>
<rect x="162.00" y="321.65" width="14.00" height="12.95" fill="#271e72"/>
<rect x="162.00" y="333.60" width="14.00" height="12.95" fill="#cf3b9e"/>
<rect x="162.00" y="345.55" width="14.00" height="12.95" fill="#f64e86"/>
<rect x="162.00" y="357.50" width="14.00" height="12.95" fill="#ff6a72"/>
<rect x="162.00" y="369.45" width="14.00" height="12.95" fill="#ff6a72"/>
<rect x="162.00" y="381.40" width="14.00" height="12.95" fill="#ff6f72"/>
<rect x="162.00" y="393.35" width="14.00" height="12.95" fill="#ff7573"/>
<rect x="162.00" y="405.30" width="14.00" height="12.95" fill="#ff7573"/>
<rect x="162.00" y="417.25" width="14.00" height="12.95" fill="#fe7f73"/>
<rect x="162.00" y="429.20" width="14.00" height="12.95" fill="#fe8a74"/>
<rect x="162.00" y="441.15" width="14.00" height="11.95" fill="#fdc08f"/>
<rect x="175.00" y="309.70" width="14.00" height="12.95" fill="#12113e"/>
<rect x="175.00" y="321.65" width="14.00" height="12.95" fill="#151346"/>
<rect x="175.00" y="333.60" width="14.00" height="12.95" fill="#18144c"/>
<rect x="175.00" y="345.55" width="14.00" height="12.95" fill="#1d1859"/>
<rect x="175.00" y="357.50" width="14.00" height="12.95" fill="#271e72"/>
<rect x="175.00" y="369.45" width="14.00" height="12.95" fill="#392183"/>
<rect x="175.00" y="381.40" width="14.00" height="12.95" fill="#68299c"/>
<rect x="175.00" y="393.35" width="14.00" height="12.95" fill="#6c299e"/>
<rect x="175.00" y="405.30" width="14.00" height="12.95" fill="#762ba1"/>
<rect x="175.00" y="417.25" width="14.00" height="12.95" fill="#9431a6"/>
<rect x="175.00" y="429.20" width="14.00" height="12.95" fill="#a334a6"/>
<rect x="175.00" y="441.15" width="14.00" height="11.95" fill="#b537a3"/>
<rect x="188.00" y="309.70" width="13.00" height="12.95" fill="#000004"/>
<rect x="188.00" y="321.65" width="13.00" height="12.95" fill="#000004"/>
<rect x="188.00" y="333.60" width="13.00" height="12.95" fill="#000004"/>
<rect x="188.00" y="345.55" width="13.00" height="12.95" fill="#000004"/>
<rect x="188.00" y="357.50" width="13.00" height="12.95" fill="#1a1652"/>
<rect x="188.00" y="369.45" width="13.00" height="12.95" fill="#f44c88"/>
<rect x="188.00" y="381.40" width="13.00" height="12.95" fill="#ff6a72"/>
<rect x="188.00" y="393.35" width="13.00" height="12.95" fill="#fda380"/>
<rect x="188.00" y="405.30" width="13.00" height="12.95" fill="#fda882"/>
<rect x="188.00" y="417.25" width="13.00" height="12.95" fill="#fda882"/>
<rect x="188.00" y="429.20" width="13.00" height="12.95" fill="#fda882"/>
<rect x="188.00" y="441.15" width="13.00" height="11.95" fill="#fdd49d"/>
<rect x="71.00" y="309.70" width="130.00" height="143.40" fill="none" stroke="#000" stroke-width="1.4" style="stroke:#000"/>
<line x1="67.00" y1="315.68" x2="71.00" y2="315.68" stroke="#111" stroke-width="1"/>
<text transform="translate(63.50 319.16) scale(1.200 1)" font-size="8.40" text-anchor="end" fill="#1e1e1e">10</text>
<line x1="67.00" y1="327.62" x2="71.00" y2="327.62" stroke="#111" stroke-width="1"/>
<text transform="translate(63.50 331.11) scale(1.200 1)" font-size="8.40" text-anchor="end" fill="#1e1e1e">5</text>
<line x1="67.00" y1="339.57" x2="71.00" y2="339.57" stroke="#111" stroke-width="1"/>
<text transform="translate(63.50 343.06) scale(1.200 1)" font-size="8.40" text-anchor="end" fill="#1e1e1e">2,5</text>
<line x1="67.00" y1="351.52" x2="71.00" y2="351.52" stroke="#111" stroke-width="1"/>
<text transform="translate(63.50 355.01) scale(1.200 1)" font-size="8.40" text-anchor="end" fill="#1e1e1e">1,25</text>
<line x1="67.00" y1="363.48" x2="71.00" y2="363.48" stroke="#111" stroke-width="1"/>
<text transform="translate(63.50 366.96) scale(1.200 1)" font-size="8.40" text-anchor="end" fill="#1e1e1e">0,625</text>
<line x1="67.00" y1="375.43" x2="71.00" y2="375.43" stroke="#111" stroke-width="1"/>
<text transform="translate(63.50 378.91) scale(1.200 1)" font-size="8.40" text-anchor="end" fill="#1e1e1e">0,3125</text>
<line x1="67.00" y1="387.38" x2="71.00" y2="387.38" stroke="#111" stroke-width="1"/>
<text transform="translate(63.50 390.86) scale(1.200 1)" font-size="8.40" text-anchor="end" fill="#1e1e1e">0,15625</text>
<line x1="67.00" y1="399.33" x2="71.00" y2="399.33" stroke="#111" stroke-width="1"/>
<text transform="translate(63.50 402.81) scale(1.200 1)" font-size="8.40" text-anchor="end" fill="#1e1e1e">0,078125</text>
<line x1="67.00" y1="411.27" x2="71.00" y2="411.27" stroke="#111" stroke-width="1"/>
<text transform="translate(63.50 414.76) scale(1.200 1)" font-size="8.40" text-anchor="end" fill="#1e1e1e">0,039063</text>
<line x1="67.00" y1="423.23" x2="71.00" y2="423.23" stroke="#111" stroke-width="1"/>
<text transform="translate(63.50 426.71) scale(1.200 1)" font-size="8.40" text-anchor="end" fill="#1e1e1e">0,019531</text>
<line x1="67.00" y1="435.18" x2="71.00" y2="435.18" stroke="#111" stroke-width="1"/>
<text transform="translate(63.50 438.66) scale(1.200 1)" font-size="8.40" text-anchor="end" fill="#1e1e1e">0,009766</text>
<line x1="67.00" y1="447.12" x2="71.00" y2="447.12" stroke="#111" stroke-width="1"/>
<text transform="translate(63.50 450.61) scale(1.200 1)" font-size="8.40" text-anchor="end" fill="#1e1e1e">0,004883</text>
<line x1="77.50" y1="453.10" x2="77.50" y2="457.10" stroke="#111" stroke-width="1"/>
<text transform="translate(80.70 467.60) rotate(-45) scale(1.000 1)" font-size="9.20" text-anchor="end" fill="#1e1e1e" textLength="42.44" lengthAdjust="spacingAndGlyphs">Ruxolitinib</text>
<line x1="90.50" y1="453.10" x2="90.50" y2="457.10" stroke="#111" stroke-width="1"/>
<text transform="translate(93.70 467.60) rotate(-45) scale(1.000 1)" font-size="9.20" text-anchor="end" fill="#1e1e1e" textLength="38.34" lengthAdjust="spacingAndGlyphs">Crizotinib</text>
<line x1="103.50" y1="453.10" x2="103.50" y2="457.10" stroke="#111" stroke-width="1"/>
<text transform="translate(106.70 467.60) rotate(-45) scale(1.000 1)" font-size="9.20" text-anchor="end" fill="#1e1e1e" textLength="48.58" lengthAdjust="spacingAndGlyphs">Romidepsin</text>
<line x1="116.50" y1="453.10" x2="116.50" y2="457.10" stroke="#111" stroke-width="1"/>
<text transform="translate(119.70 467.60) rotate(-45) scale(1.000 1)" font-size="9.20" text-anchor="end" fill="#1e1e1e" textLength="40.40" lengthAdjust="spacingAndGlyphs">Belinostat</text>
<line x1="129.50" y1="453.10" x2="129.50" y2="457.10" stroke="#111" stroke-width="1"/>
<text transform="translate(132.70 467.60) rotate(-45) scale(1.000 1)" font-size="9.20" text-anchor="end" fill="#1e1e1e" textLength="36.00" lengthAdjust="spacingAndGlyphs">ABT263</text>
<line x1="142.50" y1="453.10" x2="142.50" y2="457.10" stroke="#111" stroke-width="1"/>
<text transform="translate(145.70 467.60) rotate(-45) scale(1.000 1)" font-size="9.20" text-anchor="end" fill="#1e1e1e" textLength="37.32" lengthAdjust="spacingAndGlyphs">Duvelisib</text>
<line x1="155.50" y1="453.10" x2="155.50" y2="457.10" stroke="#111" stroke-width="1"/>
<text transform="translate(158.70 467.60) rotate(-45) scale(1.000 1)" font-size="9.20" text-anchor="end" fill="#1e1e1e" textLength="46.53" lengthAdjust="spacingAndGlyphs">Bortezomib</text>
<line x1="168.50" y1="453.10" x2="168.50" y2="457.10" stroke="#111" stroke-width="1"/>
<text transform="translate(171.70 467.60) rotate(-45) scale(1.000 1)" font-size="9.20" text-anchor="end" fill="#1e1e1e" textLength="36.00" lengthAdjust="spacingAndGlyphs">ABT199</text>
<line x1="181.50" y1="453.10" x2="181.50" y2="457.10" stroke="#111" stroke-width="1"/>
<text transform="translate(184.70 467.60) rotate(-45) scale(1.000 1)" font-size="9.20" text-anchor="end" fill="#1e1e1e" textLength="51.46" lengthAdjust="spacingAndGlyphs">A-1331852</text>
<line x1="194.50" y1="453.10" x2="194.50" y2="457.10" stroke="#111" stroke-width="1"/>
<text transform="translate(197.70 467.60) rotate(-45) scale(1.000 1)" font-size="9.20" text-anchor="end" fill="#1e1e1e" textLength="36.32" lengthAdjust="spacingAndGlyphs">S63845</text>
<text transform="translate(135.20 297.60) scale(1.000 1)" font-size="10.30" text-anchor="middle" fill="#1e1e1e">MAC1</text>
<text x="7.90" y="282.00" font-size="15" font-weight="bold" fill="#000" style="stroke:#000;stroke-width:0.35px">C</text>
<text transform="translate(16.90 381.00) rotate(-90) scale(0.750 1)" font-size="10.00" font-weight="bold" text-anchor="middle" fill="#1e1e1e">[uM]</text>
<text transform="translate(136.00 514.50) scale(0.600 1)" font-size="10.80" font-weight="bold" text-anchor="middle" fill="#1e1e1e" style="stroke-width:0.1px">Drugs</text>
<defs><linearGradient id="gC" x1="0" y1="0" x2="0" y2="1"><stop offset="0.000" stop-color="#fcfac0"/><stop offset="0.021" stop-color="#fcf4ba"/><stop offset="0.042" stop-color="#fdeeb3"/><stop offset="0.062" stop-color="#fde8ad"/><stop offset="0.083" stop-color="#fde1a7"/><stop offset="0.104" stop-color="#fdd9a1"/><stop offset="0.125" stop-color="#fdd19b"/><stop offset="0.146" stop-color="#fdc995"/><stop offset="0.167" stop-color="#fdc190"/><stop offset="0.188" stop-color="#fdb98c"/><stop offset="0.208" stop-color="#fdb187"/><stop offset="0.229" stop-color="#fda983"/><stop offset="0.250" stop-color="#fda17f"/><stop offset="0.271" stop-color="#fe997b"/><stop offset="0.292" stop-color="#fe9077"/><stop offset="0.312" stop-color="#fe8774"/><stop offset="0.333" stop-color="#fe7e73"/><stop offset="0.354" stop-color="#ff7573"/><stop offset="0.375" stop-color="#ff6c72"/><stop offset="0.396" stop-color="#fe6575"/><stop offset="0.417" stop-color="#fd5f79"/><stop offset="0.438" stop-color="#fb597e"/><stop offset="0.458" stop-color="#fa5282"/><stop offset="0.479" stop-color="#f74f85"/><stop offset="0.500" stop-color="#f34b89"/><stop offset="0.521" stop-color="#ee478d"/><stop offset="0.542" stop-color="#e74392"/><stop offset="0.562" stop-color="#df4097"/><stop offset="0.583" stop-color="#d73c9c"/><stop offset="0.604" stop-color="#c5399f"/><stop offset="0.625" stop-color="#b437a3"/><stop offset="0.646" stop-color="#a334a6"/><stop offset="0.667" stop-color="#9832a6"/><stop offset="0.688" stop-color="#8d30a6"/><stop offset="0.708" stop-color="#832ea6"/><stop offset="0.729" stop-color="#782ca2"/><stop offset="0.750" stop-color="#6e2a9f"/><stop offset="0.771" stop-color="#64289b"/><stop offset="0.792" stop-color="#592697"/><stop offset="0.812" stop-color="#4e2492"/><stop offset="0.833" stop-color="#44238b"/><stop offset="0.854" stop-color="#3b2185"/><stop offset="0.875" stop-color="#33207f"/><stop offset="0.896" stop-color="#2b1f79"/><stop offset="0.917" stop-color="#231b68"/><stop offset="0.938" stop-color="#1c1756"/><stop offset="0.958" stop-color="#131140"/><stop offset="0.979" stop-color="#090823"/><stop offset="1.000" stop-color="#000004"/></linearGradient></defs>
<rect x="205.70" y="309.30" width="11.90" height="143.50" fill="url(#gC)" stroke="#333" stroke-width="1.5" style="stroke:#353330"/>
<line x1="205.70" y1="330.70" x2="207.70" y2="330.70" stroke="#222" stroke-width="1"/>
<line x1="215.60" y1="330.70" x2="217.60" y2="330.70" stroke="#222" stroke-width="1"/>
<text transform="translate(222.40 333.82) scale(1.130 1)" font-size="8.80" fill="#1e1e1e">100</text>
<line x1="205.70" y1="391.80" x2="207.70" y2="391.80" stroke="#222" stroke-width="1"/>
<line x1="215.60" y1="391.80" x2="217.60" y2="391.80" stroke="#222" stroke-width="1"/>
<text transform="translate(222.40 394.92) scale(1.130 1)" font-size="8.80" fill="#1e1e1e">50</text>
<text transform="translate(244.80 381.30) rotate(90) scale(1.000 1)" font-size="9.00" text-anchor="middle" fill="#1e1e1e">% Viability</text>
<rect x="334.90" y="309.40" width="129.60" height="143.40" fill="#000004"/>
<rect x="334.90" y="309.40" width="17.20" height="12.95" fill="#48238e"/>
<rect x="334.90" y="321.35" width="17.20" height="12.95" fill="#48238e"/>
<rect x="334.90" y="333.30" width="17.20" height="12.95" fill="#48238e"/>
<rect x="334.90" y="345.25" width="17.20" height="12.95" fill="#43238b"/>
<rect x="334.90" y="357.20" width="17.20" height="12.95" fill="#48238e"/>
<rect x="334.90" y="369.15" width="17.20" height="12.95" fill="#762ba1"/>
<rect x="334.90" y="381.10" width="17.20" height="12.95" fill="#762ba1"/>
<rect x="334.90" y="393.05" width="17.20" height="12.95" fill="#892fa6"/>
<rect x="334.90" y="405.00" width="17.20" height="12.95" fill="#c6399f"/>
<rect x="334.90" y="416.95" width="17.20" height="12.95" fill="#f44c88"/>
<rect x="334.90" y="428.90" width="17.20" height="12.95" fill="#fe8a74"/>
<rect x="334.90" y="440.85" width="17.20" height="11.95" fill="#fdd9a1"/>
<rect x="351.10" y="309.40" width="17.20" height="12.95" fill="#000004"/>
<rect x="351.10" y="321.35" width="17.20" height="12.95" fill="#08071f"/>
<rect x="351.10" y="333.30" width="17.20" height="12.95" fill="#0b0927"/>
<rect x="351.10" y="345.25" width="17.20" height="12.95" fill="#271e72"/>
<rect x="351.10" y="357.20" width="17.20" height="12.95" fill="#ac35a4"/>
<rect x="351.10" y="369.15" width="17.20" height="12.95" fill="#fdbb8d"/>
<rect x="351.10" y="381.10" width="17.20" height="12.95" fill="#fdc08f"/>
<rect x="351.10" y="393.05" width="17.20" height="12.95" fill="#fdcf99"/>
<rect x="351.10" y="405.00" width="17.20" height="12.95" fill="#fceeb4"/>
<rect x="351.10" y="416.95" width="17.20" height="12.95" fill="#fdc592"/>
<rect x="351.10" y="428.90" width="17.20" height="12.95" fill="#fdcf99"/>
<rect x="351.10" y="440.85" width="17.20" height="11.95" fill="#fde7ac"/>
<rect x="367.30" y="309.40" width="17.20" height="12.95" fill="#000004"/>
<rect x="367.30" y="321.35" width="17.20" height="12.95" fill="#000004"/>
<rect x="367.30" y="333.30" width="17.20" height="12.95" fill="#000004"/>
<rect x="367.30" y="345.25" width="17.20" height="12.95" fill="#000004"/>
<rect x="367.30" y="357.20" width="17.20" height="12.95" fill="#000004"/>
<rect x="367.30" y="369.15" width="17.20" height="12.95" fill="#000004"/>
<rect x="367.30" y="381.10" width="17.20" height="12.95" fill="#000004"/>
<rect x="367.30" y="393.05" width="17.20" height="12.95" fill="#000004"/>
<rect x="367.30" y="405.00" width="17.20" height="12.95" fill="#000004"/>
<rect x="367.30" y="416.95" width="17.20" height="12.95" fill="#000004"/>
<rect x="367.30" y="428.90" width="17.20" height="12.95" fill="#0b0927"/>
<rect x="367.30" y="440.85" width="17.20" height="11.95" fill="#ff6a72"/>
<rect x="383.50" y="309.40" width="17.20" height="12.95" fill="#000004"/>
<rect x="383.50" y="321.35" width="17.20" height="12.95" fill="#000004"/>
<rect x="383.50" y="333.30" width="17.20" height="12.95" fill="#000004"/>
<rect x="383.50" y="345.25" width="17.20" height="12.95" fill="#000004"/>
<rect x="383.50" y="357.20" width="17.20" height="12.95" fill="#000004"/>
<rect x="383.50" y="369.15" width="17.20" height="12.95" fill="#1d1859"/>
<rect x="383.50" y="381.10" width="17.20" height="12.95" fill="#9431a6"/>
<rect x="383.50" y="393.05" width="17.20" height="12.95" fill="#fe6774"/>
<rect x="383.50" y="405.00" width="17.20" height="12.95" fill="#fcf6bc"/>
<rect x="383.50" y="416.95" width="17.20" height="12.95" fill="#fcf6bc"/>
<rect x="383.50" y="428.90" width="17.20" height="12.95" fill="#fde3a8"/>
<rect x="383.50" y="440.85" width="17.20" height="11.95" fill="#fcf6bc"/>
<rect x="399.70" y="309.40" width="17.20" height="12.95" fill="#000004"/>
<rect x="399.70" y="321.35" width="17.20" height="12.95" fill="#08071f"/>
<rect x="399.70" y="333.30" width="17.20" height="12.95" fill="#1a1652"/>
<rect x="399.70" y="345.25" width="17.20" height="12.95" fill="#20195f"/>
<rect x="399.70" y="357.20" width="17.20" height="12.95" fill="#271e72"/>
<rect x="399.70" y="369.15" width="17.20" height="12.95" fill="#5a2698"/>
<rect x="399.70" y="381.10" width="17.20" height="12.95" fill="#762ba1"/>
<rect x="399.70" y="393.05" width="17.20" height="12.95" fill="#9431a6"/>
<rect x="399.70" y="405.00" width="17.20" height="12.95" fill="#e44294"/>
<rect x="399.70" y="416.95" width="17.20" height="12.95" fill="#f64e86"/>
<rect x="399.70" y="428.90" width="17.20" height="12.95" fill="#fa5282"/>
<rect x="399.70" y="440.85" width="17.20" height="11.95" fill="#fdad85"/>
<rect x="415.90" y="309.40" width="17.20" height="12.95" fill="#fe9479"/>
<rect x="415.90" y="321.35" width="17.20" height="12.95" fill="#fe7f73"/>
<rect x="415.90" y="333.30" width="17.20" height="12.95" fill="#fe8a74"/>
<rect x="415.90" y="345.25" width="17.20" height="12.95" fill="#fdbb8d"/>
<rect x="415.90" y="357.20" width="17.20" height="12.95" fill="#fdb287"/>
<rect x="415.90" y="369.15" width="17.20" height="12.95" fill="#fcf2b8"/>
<rect x="415.90" y="381.10" width="17.20" height="12.95" fill="#fdd49d"/>
<rect x="415.90" y="393.05" width="17.20" height="12.95" fill="#fdd49d"/>
<rect x="415.90" y="405.00" width="17.20" height="12.95" fill="#fdd49d"/>
<rect x="415.90" y="416.95" width="17.20" height="12.95" fill="#fdd49d"/>
<rect x="415.90" y="428.90" width="17.20" height="12.95" fill="#fdd49d"/>
<rect x="415.90" y="440.85" width="17.20" height="11.95" fill="#fdd49d"/>
<rect x="432.10" y="309.40" width="17.20" height="12.95" fill="#000004"/>
<rect x="432.10" y="321.35" width="17.20" height="12.95" fill="#000004"/>
<rect x="432.10" y="333.30" width="17.20" height="12.95" fill="#000004"/>
<rect x="432.10" y="345.25" width="17.20" height="12.95" fill="#000004"/>
<rect x="432.10" y="357.20" width="17.20" height="12.95" fill="#000004"/>
<rect x="432.10" y="369.15" width="17.20" height="12.95" fill="#000004"/>
<rect x="432.10" y="381.10" width="17.20" height="12.95" fill="#000004"/>
<rect x="432.10" y="393.05" width="17.20" height="12.95" fill="#000004"/>
<rect x="432.10" y="405.00" width="17.20" height="12.95" fill="#000004"/>
<rect x="432.10" y="416.95" width="17.20" height="12.95" fill="#1d1859"/>
<rect x="432.10" y="428.90" width="17.20" height="12.95" fill="#ff6f72"/>
<rect x="432.10" y="440.85" width="17.20" height="11.95" fill="#fdbb8d"/>
<rect x="448.30" y="309.40" width="16.20" height="12.95" fill="#0b0927"/>
<rect x="448.30" y="321.35" width="16.20" height="12.95" fill="#1d1859"/>
<rect x="448.30" y="333.30" width="16.20" height="12.95" fill="#2a1f78"/>
<rect x="448.30" y="345.25" width="16.20" height="12.95" fill="#68299c"/>
<rect x="448.30" y="357.20" width="16.20" height="12.95" fill="#68299c"/>
<rect x="448.30" y="369.15" width="16.20" height="12.95" fill="#892fa6"/>
<rect x="448.30" y="381.10" width="16.20" height="12.95" fill="#9932a6"/>
<rect x="448.30" y="393.05" width="16.20" height="12.95" fill="#ac35a4"/>
<rect x="448.30" y="405.00" width="16.20" height="12.95" fill="#b537a3"/>
<rect x="448.30" y="416.95" width="16.20" height="12.95" fill="#e44294"/>
<rect x="448.30" y="428.90" width="16.20" height="12.95" fill="#f64e86"/>
<rect x="448.30" y="440.85" width="16.20" height="11.95" fill="#fda380"/>
<rect x="334.90" y="309.40" width="129.60" height="143.40" fill="none" stroke="#000" stroke-width="1.4" style="stroke:#000"/>
<line x1="330.90" y1="315.38" x2="334.90" y2="315.38" stroke="#111" stroke-width="1"/>
<text transform="translate(327.40 318.86) scale(1.200 1)" font-size="8.40" text-anchor="end" fill="#1e1e1e">10</text>
<line x1="330.90" y1="327.32" x2="334.90" y2="327.32" stroke="#111" stroke-width="1"/>
<text transform="translate(327.40 330.81) scale(1.200 1)" font-size="8.40" text-anchor="end" fill="#1e1e1e">5</text>
<line x1="330.90" y1="339.27" x2="334.90" y2="339.27" stroke="#111" stroke-width="1"/>
<text transform="translate(327.40 342.76) scale(1.200 1)" font-size="8.40" text-anchor="end" fill="#1e1e1e">2,5</text>
<line x1="330.90" y1="351.22" x2="334.90" y2="351.22" stroke="#111" stroke-width="1"/>
<text transform="translate(327.40 354.71) scale(1.200 1)" font-size="8.40" text-anchor="end" fill="#1e1e1e">1,25</text>
<line x1="330.90" y1="363.18" x2="334.90" y2="363.18" stroke="#111" stroke-width="1"/>
<text transform="translate(327.40 366.66) scale(1.200 1)" font-size="8.40" text-anchor="end" fill="#1e1e1e">0,625</text>
<line x1="330.90" y1="375.12" x2="334.90" y2="375.12" stroke="#111" stroke-width="1"/>
<text transform="translate(327.40 378.61) scale(1.200 1)" font-size="8.40" text-anchor="end" fill="#1e1e1e">0,3125</text>
<line x1="330.90" y1="387.07" x2="334.90" y2="387.07" stroke="#111" stroke-width="1"/>
<text transform="translate(327.40 390.56) scale(1.200 1)" font-size="8.40" text-anchor="end" fill="#1e1e1e">0,15625</text>
<line x1="330.90" y1="399.02" x2="334.90" y2="399.02" stroke="#111" stroke-width="1"/>
<text transform="translate(327.40 402.51) scale(1.200 1)" font-size="8.40" text-anchor="end" fill="#1e1e1e">0,078125</text>
<line x1="330.90" y1="410.98" x2="334.90" y2="410.98" stroke="#111" stroke-width="1"/>
<text transform="translate(327.40 414.46) scale(1.200 1)" font-size="8.40" text-anchor="end" fill="#1e1e1e">0,039063</text>
<line x1="330.90" y1="422.93" x2="334.90" y2="422.93" stroke="#111" stroke-width="1"/>
<text transform="translate(327.40 426.41) scale(1.200 1)" font-size="8.40" text-anchor="end" fill="#1e1e1e">0,019531</text>
<line x1="330.90" y1="434.88" x2="334.90" y2="434.88" stroke="#111" stroke-width="1"/>
<text transform="translate(327.40 438.36) scale(1.200 1)" font-size="8.40" text-anchor="end" fill="#1e1e1e">0,009766</text>
<line x1="330.90" y1="446.83" x2="334.90" y2="446.83" stroke="#111" stroke-width="1"/>
<text transform="translate(327.40 450.31) scale(1.200 1)" font-size="8.40" text-anchor="end" fill="#1e1e1e">0,004883</text>
<line x1="343.00" y1="452.80" x2="343.00" y2="456.80" stroke="#111" stroke-width="1"/>
<text transform="translate(346.20 467.30) rotate(-45) scale(1.000 1)" font-size="9.30" text-anchor="end" fill="#1e1e1e" textLength="42.90" lengthAdjust="spacingAndGlyphs">Ruxolitinib</text>
<line x1="359.20" y1="452.80" x2="359.20" y2="456.80" stroke="#111" stroke-width="1"/>
<text transform="translate(362.40 467.30) rotate(-45) scale(1.000 1)" font-size="9.30" text-anchor="end" fill="#1e1e1e" textLength="38.76" lengthAdjust="spacingAndGlyphs">Crizotinib</text>
<line x1="375.40" y1="452.80" x2="375.40" y2="456.80" stroke="#111" stroke-width="1"/>
<text transform="translate(378.60 467.30) rotate(-45) scale(1.000 1)" font-size="9.30" text-anchor="end" fill="#1e1e1e" textLength="49.10" lengthAdjust="spacingAndGlyphs">Romidepsin</text>
<line x1="391.60" y1="452.80" x2="391.60" y2="456.80" stroke="#111" stroke-width="1"/>
<text transform="translate(394.80 467.30) rotate(-45) scale(1.000 1)" font-size="9.30" text-anchor="end" fill="#1e1e1e" textLength="40.84" lengthAdjust="spacingAndGlyphs">Belinostat</text>
<line x1="407.80" y1="452.80" x2="407.80" y2="456.80" stroke="#111" stroke-width="1"/>
<text transform="translate(411.00 467.30) rotate(-45) scale(1.000 1)" font-size="9.30" text-anchor="end" fill="#1e1e1e" textLength="36.39" lengthAdjust="spacingAndGlyphs">ABT263</text>
<line x1="424.00" y1="452.80" x2="424.00" y2="456.80" stroke="#111" stroke-width="1"/>
<text transform="translate(427.20 467.30) rotate(-45) scale(1.000 1)" font-size="9.30" text-anchor="end" fill="#1e1e1e" textLength="37.73" lengthAdjust="spacingAndGlyphs">Duvelisib</text>
<line x1="440.20" y1="452.80" x2="440.20" y2="456.80" stroke="#111" stroke-width="1"/>
<text transform="translate(443.40 467.30) rotate(-45) scale(1.000 1)" font-size="9.30" text-anchor="end" fill="#1e1e1e" textLength="47.03" lengthAdjust="spacingAndGlyphs">Bortezomib</text>
<line x1="456.40" y1="452.80" x2="456.40" y2="456.80" stroke="#111" stroke-width="1"/>
<text transform="translate(459.60 467.30) rotate(-45) scale(1.000 1)" font-size="9.30" text-anchor="end" fill="#1e1e1e" textLength="36.39" lengthAdjust="spacingAndGlyphs">ABT199</text>
<text transform="translate(399.10 302.80) scale(0.950 1)" font-size="10.30" text-anchor="middle" fill="#1e1e1e">TLBR1</text>
<text x="272.30" y="281.80" font-size="15" font-weight="bold" fill="#000" style="stroke:#000;stroke-width:0.35px">D</text>
<text transform="translate(280.70 381.00) rotate(-90) scale(0.750 1)" font-size="10.00" font-weight="bold" text-anchor="middle" fill="#1e1e1e">[uM]</text>
<text transform="translate(400.20 510.20) scale(0.660 1)" font-size="9.80" font-weight="bold" text-anchor="middle" fill="#1e1e1e" style="stroke-width:0.1px">Drugs</text>
<defs><linearGradient id="gD" x1="0" y1="0" x2="0" y2="1"><stop offset="0.000" stop-color="#fcfac0"/><stop offset="0.021" stop-color="#fcf4ba"/><stop offset="0.042" stop-color="#fdeeb3"/><stop offset="0.062" stop-color="#fde8ad"/><stop offset="0.083" stop-color="#fde1a7"/><stop offset="0.104" stop-color="#fdd9a1"/><stop offset="0.125" stop-color="#fdd19b"/><stop offset="0.146" stop-color="#fdc995"/><stop offset="0.167" stop-color="#fdc190"/><stop offset="0.188" stop-color="#fdb98c"/><stop offset="0.208" stop-color="#fdb187"/><stop offset="0.229" stop-color="#fda983"/><stop offset="0.250" stop-color="#fda17f"/><stop offset="0.271" stop-color="#fe997b"/><stop offset="0.292" stop-color="#fe9077"/><stop offset="0.312" stop-color="#fe8774"/><stop offset="0.333" stop-color="#fe7e73"/><stop offset="0.354" stop-color="#ff7573"/><stop offset="0.375" stop-color="#ff6c72"/><stop offset="0.396" stop-color="#fe6575"/><stop offset="0.417" stop-color="#fd5f79"/><stop offset="0.438" stop-color="#fb597e"/><stop offset="0.458" stop-color="#fa5282"/><stop offset="0.479" stop-color="#f74f85"/><stop offset="0.500" stop-color="#f34b89"/><stop offset="0.521" stop-color="#ee478d"/><stop offset="0.542" stop-color="#e74392"/><stop offset="0.562" stop-color="#df4097"/><stop offset="0.583" stop-color="#d73c9c"/><stop offset="0.604" stop-color="#c5399f"/><stop offset="0.625" stop-color="#b437a3"/><stop offset="0.646" stop-color="#a334a6"/><stop offset="0.667" stop-color="#9832a6"/><stop offset="0.688" stop-color="#8d30a6"/><stop offset="0.708" stop-color="#832ea6"/><stop offset="0.729" stop-color="#782ca2"/><stop offset="0.750" stop-color="#6e2a9f"/><stop offset="0.771" stop-color="#64289b"/><stop offset="0.792" stop-color="#592697"/><stop offset="0.812" stop-color="#4e2492"/><stop offset="0.833" stop-color="#44238b"/><stop offset="0.854" stop-color="#3b2185"/><stop offset="0.875" stop-color="#33207f"/><stop offset="0.896" stop-color="#2b1f79"/><stop offset="0.917" stop-color="#231b68"/><stop offset="0.938" stop-color="#1c1756"/><stop offset="0.958" stop-color="#131140"/><stop offset="0.979" stop-color="#090823"/><stop offset="1.000" stop-color="#000004"/></linearGradient></defs>
<rect x="469.80" y="309.30" width="12.00" height="142.70" fill="url(#gD)" stroke="#333" stroke-width="1.5" style="stroke:#353330"/>
<line x1="469.80" y1="336.50" x2="471.80" y2="336.50" stroke="#222" stroke-width="1"/>
<line x1="479.80" y1="336.50" x2="481.80" y2="336.50" stroke="#222" stroke-width="1"/>
<text transform="translate(485.60 339.62) scale(1.130 1)" font-size="8.80" fill="#1e1e1e">80</text>
<line x1="469.80" y1="365.30" x2="471.80" y2="365.30" stroke="#222" stroke-width="1"/>
<line x1="479.80" y1="365.30" x2="481.80" y2="365.30" stroke="#222" stroke-width="1"/>
<text transform="translate(485.60 368.42) scale(1.130 1)" font-size="8.80" fill="#1e1e1e">60</text>
<line x1="469.80" y1="394.20" x2="471.80" y2="394.20" stroke="#222" stroke-width="1"/>
<line x1="479.80" y1="394.20" x2="481.80" y2="394.20" stroke="#222" stroke-width="1"/>
<text transform="translate(485.60 397.32) scale(1.130 1)" font-size="8.80" fill="#1e1e1e">40</text>
<line x1="469.80" y1="423.10" x2="471.80" y2="423.10" stroke="#222" stroke-width="1"/>
<line x1="479.80" y1="423.10" x2="481.80" y2="423.10" stroke="#222" stroke-width="1"/>
<text transform="translate(485.60 426.22) scale(1.130 1)" font-size="8.80" fill="#1e1e1e">20</text>
<text transform="translate(504.30 380.40) rotate(90) scale(1.000 1)" font-size="9.00" text-anchor="middle" fill="#1e1e1e">% Viability</text>
<rect x="0.5" y="0.5" width="519" height="525" fill="none" stroke="#333" stroke-width="1"/>
</svg>
</body></html>
